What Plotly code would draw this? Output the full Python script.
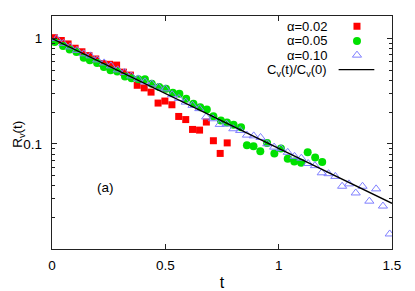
import plotly.graph_objects as go

# alpha = 0.02 (red squares)
t_a02 = [0.010, 0.041, 0.071, 0.102, 0.132, 0.163, 0.193, 0.224, 0.254, 0.285,
         0.315, 0.346, 0.376, 0.407, 0.437, 0.468, 0.498, 0.529, 0.559, 0.590,
         0.620, 0.651, 0.681, 0.712, 0.742, 0.773]
r_a02 = [1.02, 0.96, 0.89, 0.81, 0.75, 0.69, 0.64, 0.58, 0.57, 0.56,
         0.48, 0.45, 0.36, 0.34, 0.31, 0.244, 0.255, 0.235, 0.182, 0.170,
         0.137, 0.135, 0.161, 0.107, 0.081, 0.102]

# alpha = 0.05 (green circles)
t_a05 = [0.012, 0.049, 0.078, 0.108, 0.140, 0.167, 0.199, 0.229, 0.258, 0.288,
         0.322, 0.351, 0.381, 0.410, 0.440, 0.473, 0.503, 0.533, 0.562, 0.592,
         0.624, 0.654, 0.683, 0.712, 0.745, 0.772, 0.801, 0.834, 0.860, 0.889,
         0.919, 0.949, 0.981, 1.010, 1.040, 1.069, 1.099, 1.128, 1.161, 1.192]
r_a05 = [0.928, 0.850, 0.786, 0.746, 0.659, 0.622, 0.586, 0.537, 0.499, 0.488,
         0.437, 0.421, 0.410, 0.410, 0.373, 0.346, 0.334, 0.306, 0.299, 0.268,
         0.240, 0.223, 0.212, 0.183, 0.167, 0.159, 0.152, 0.144, 0.097, 0.095,
         0.085, 0.102, 0.081, 0.090, 0.072, 0.068, 0.066, 0.083, 0.074, 0.067]

# alpha = 0.10 (open triangles)
t_a10 = [0.02, 0.05, 0.08, 0.11, 0.14, 0.17, 0.20, 0.23, 0.26, 0.29,
         0.32, 0.35, 0.38, 0.41, 0.44, 0.47, 0.50, 0.53, 0.56, 0.59,
         0.62, 0.65, 0.68, 0.71, 0.74, 0.77, 0.80, 0.83, 0.86, 0.89,
         0.92, 0.95, 0.98, 1.01, 1.04, 1.07, 1.10, 1.13, 1.16, 1.19,
         1.22, 1.25, 1.28, 1.31, 1.34, 1.37, 1.40, 1.43, 1.46, 1.49]
r_a10 = [1.00, 0.902, 0.835, 0.774, 0.717, 0.686, 0.628, 0.588, 0.551, 0.505,
         0.477, 0.442, 0.414, 0.388, 0.371, 0.346, 0.333, 0.293, 0.270, 0.249,
         0.232, 0.216, 0.180, 0.173, 0.153, 0.154, 0.139, 0.134, 0.121, 0.119,
         0.115, 0.100, 0.093, 0.090, 0.083, 0.076, 0.073, 0.065, 0.062, 0.053,
         0.052, 0.049, 0.0395, 0.0416, 0.0341, 0.0395, 0.0285, 0.0373, 0.0256, 0.0139]

# C_v(t)/C_v(0)
t_cv = [0.0, 0.5, 1.0, 1.5]
r_cv = [1.0, 0.301, 0.0904, 0.0272]

legend_labels = ['\u03b1=0.02', '\u03b1=0.05', '\u03b1=0.10', 'C<sub>v</sub>(t)/C<sub>v</sub>(0)']

FONT = 'Liberation Sans, Arial, sans-serif'
RED, GREEN, BLUE = '#ff0000', '#00e000', '#7f7fff'

fig = go.Figure()
fig.add_trace(go.Scatter(x=t_a02, y=r_a02, mode='markers',
                         marker=dict(symbol='square', size=7, color=RED)))
fig.add_trace(go.Scatter(x=t_a05, y=r_a05, mode='markers',
                         marker=dict(symbol='circle', size=8, color=GREEN)))
fig.add_trace(go.Scatter(x=t_a10, y=r_a10, mode='markers',
                         marker=dict(symbol='triangle-up-open', size=8, color=BLUE,
                                     line=dict(width=1, color=BLUE))))
fig.add_trace(go.Scatter(x=t_cv, y=r_cv, mode='lines',
                         line=dict(color='black', width=1.3)))

# hand-made key: text right-aligned, sample on the right (gnuplot style)
key_y = [0.956, 0.893, 0.832, 0.766]
key_x = 0.897
fig.add_trace(go.Scatter(x=[key_x], y=[key_y[0]], xaxis='x2', yaxis='y2', mode='markers',
                         marker=dict(symbol='square', size=7, color=RED)))
fig.add_trace(go.Scatter(x=[key_x], y=[key_y[1]], xaxis='x2', yaxis='y2', mode='markers',
                         marker=dict(symbol='circle', size=8, color=GREEN)))
fig.add_trace(go.Scatter(x=[key_x], y=[key_y[2]], xaxis='x2', yaxis='y2', mode='markers',
                         marker=dict(symbol='triangle-up-open', size=8, color=BLUE,
                                     line=dict(width=1, color=BLUE))))
fig.add_trace(go.Scatter(x=[0.843, 0.948], y=[0.770, 0.770], xaxis='x2', yaxis='y2',
                         mode='lines', line=dict(color='black', width=1.3)))

annotations = [dict(x=0.813, y=yy, xref='paper', yref='paper', text=lab, showarrow=False,
                    xanchor='right', yanchor='middle', font=dict(size=13), borderpad=0)
               for lab, yy in zip(legend_labels, key_y)]
annotations.append(dict(x=0.238, y=-1.413, xref='x', yref='y', text='(a)', showarrow=False,
                        xanchor='center', yanchor='middle', font=dict(size=13.5)))
# y-axis title as an annotation so it can sit further left than plotly allows
annotations.append(dict(x=-0.097, y=0.49, xref='paper', yref='paper', text='R<sub>v</sub>(t)',
                        showarrow=False, textangle=-90, xanchor='center', yanchor='middle',
                        font=dict(size=13.5), borderpad=0))

minor_vals = [m * d for d in (0.01, 0.1, 1) for m in range(2, 10)]

# page body has an 8px margin, so the figure is 8px smaller and offset by 8px
fig.update_layout(
    width=407, height=283,
    margin=dict(l=44, r=23, t=8, b=42),
    paper_bgcolor='white', plot_bgcolor='white',
    font=dict(family=FONT, size=13.5, color='black'),
    showlegend=False,
    annotations=annotations,
    xaxis=dict(range=[0, 1.5], tickvals=[0, 0.5, 1, 1.5], ticktext=['0', '0.5', '1', '1.5'],
               ticks='inside', ticklen=5, tickcolor='#222', tickwidth=1,
               showline=True, linecolor='#222', linewidth=1.3, mirror='allticks',
               showgrid=False, zeroline=False, ticklabelstandoff=4, automargin=False,
               title=dict(text='t', standoff=8)),
    yaxis=dict(type='log', range=[-2.0, 0.215], tickvals=[0.01, 0.1, 1], ticktext=['', '0.1', '1'],
               ticks='inside', ticklen=5, tickcolor='#222', tickwidth=1,
               minor=dict(tickvals=minor_vals, ticks='inside', ticklen=3, tickcolor='#222', showgrid=False),
               showline=True, linecolor='#222', linewidth=1.3, mirror='allticks',
               showgrid=False, zeroline=False, ticklabelstandoff=6, automargin=False),
    xaxis2=dict(overlaying='x', range=[0, 1], visible=False, fixedrange=True),
    yaxis2=dict(overlaying='y', range=[0, 1], visible=False, fixedrange=True),
)

fig.write_html("out.html")
